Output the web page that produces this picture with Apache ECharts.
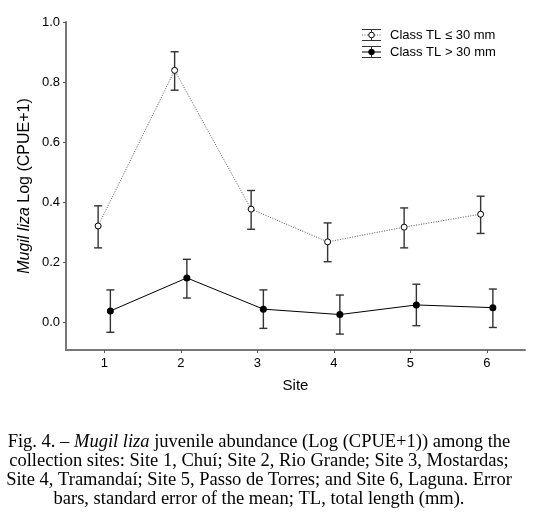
<!DOCTYPE html>
<html>
<head>
<meta charset="utf-8">
<script src="https://cdn.jsdelivr.net/npm/echarts@6/dist/echarts.min.js"></script>
<style>
  html, body { margin: 0; padding: 0; background: #fff; }
  #chart { width: 544px; height: 526px; }
</style>
</head>
<body>
<div id="chart"></div>
<script>
// data
const sites = [1, 2, 3, 4, 5, 6]
const seriesNames = ['Class TL \u2264 30 mm', 'Class TL > 30 mm']
const smallMean = [0.321, 0.839, 0.377, 0.268, 0.317, 0.360]
const smallLow = [0.248, 0.773, 0.310, 0.202, 0.248, 0.296]
const smallHigh = [0.388, 0.901, 0.439, 0.331, 0.381, 0.420]
const largeMean = [0.038, 0.148, 0.044, 0.026, 0.058, 0.049]
const largeLow = [-0.033, 0.081, -0.020, -0.039, -0.011, -0.017]
const largeHigh = [0.108, 0.210, 0.108, 0.091, 0.127, 0.111]
const yTicks = [0, 0.2, 0.4, 0.6, 0.8, 1.0]
const caption = [
  [{ t: 'Fig. 4. \u2013 ' }, { t: 'Mugil liza', i: true }, { t: ' juvenile abundance (Log (CPUE+1)) among the' }],
  [{ t: 'collection sites: Site 1, Chu\u00ed; Site 2, Rio Grande; Site 3, Mostardas;' }],
  [{ t: 'Site 4, Tramanda\u00ed; Site 5, Passo de Torres; and Site 6, Laguna. Error' }],
  [{ t: 'bars, standard error of the mean; TL, total length (mm).' }]
]

const shift = 0.08 // the two groups are drawn slightly apart on each site
const sans = 'Liberation Sans, Arial, sans-serif'
const serif = 'Liberation Serif, Times New Roman, serif'

const myChart = echarts.init(document.getElementById('chart'))

const errorSeries = (low, high, dx) => ({
  type: 'custom',
  silent: true,
  z: 3,
  data: sites.map((s, i) => [s + dx, low[i], high[i]]),
  renderItem: (params, api) => {
    const top = api.coord([api.value(0), api.value(2)])
    const bot = api.coord([api.value(0), api.value(1)])
    const w = 4
    const style = { stroke: '#333', lineWidth: 1.4 }
    return {
      type: 'group',
      children: [
        { type: 'line', shape: { x1: top[0], y1: top[1], x2: bot[0], y2: bot[1] }, style },
        { type: 'line', shape: { x1: top[0] - w, y1: top[1], x2: top[0] + w, y2: top[1] }, style },
        { type: 'line', shape: { x1: bot[0] - w, y1: bot[1], x2: bot[0] + w, y2: bot[1] }, style }
      ]
    }
  }
})

// legend drawn by hand so the icons look like the error-bar glyphs
const legendItem = (y, name, open) => ({
  type: 'group',
  x: 362,
  y: y - 5.5,
  children: [
    { type: 'line', shape: { x1: 0, y1: 0, x2: 19, y2: 0 }, style: { stroke: '#333', lineWidth: 1 } },
    { type: 'line', shape: { x1: 0, y1: 11, x2: 19, y2: 11 }, style: { stroke: '#333', lineWidth: 1 } },
    { type: 'line', shape: { x1: 9.5, y1: 0, x2: 9.5, y2: 11 }, style: { stroke: '#333', lineWidth: 1 } },
    { type: 'line', shape: { x1: 0, y1: 5.5, x2: 19, y2: 5.5 }, style: { stroke: open ? '#666' : '#000', lineWidth: 1, lineDash: open ? [1, 1.5] : null } },
    { type: 'circle', shape: { cx: 9.5, cy: 5.5, r: 2.8 }, style: { fill: open ? '#fff' : '#000', stroke: '#000', lineWidth: 1 } },
    { type: 'text', x: 28, y: 5.5, style: { text: name, font: '13px ' + sans, fill: '#000', verticalAlign: 'middle' } }
  ]
})

const captionText = caption.map((parts, k) => ({
  type: 'text',
  x: 259,
  y: 442 + k * 19,
  style: {
    text: parts.map(p => p.i ? '{i|' + p.t + '}' : p.t).join(''),
    font: '18.5px ' + serif,
    fill: '#000',
    align: 'center',
    verticalAlign: 'middle',
    rich: { i: { fontStyle: 'italic', fontFamily: serif, fontSize: 18.5 } }
  }
}))

const option = {
  animation: false,
  backgroundColor: '#fff',
  grid: { left: 66, right: 19, top: 22, bottom: 176 },
  xAxis: {
    type: 'value',
    min: 0.5,
    max: 6.5,
    name: 'Site',
    nameLocation: 'middle',
    nameGap: 28,
    nameTextStyle: { fontFamily: sans, fontSize: 15, color: '#000' },
    splitLine: { show: false },
    axisLine: { onZero: false, lineStyle: { color: '#777', width: 2 } },
    axisTick: { customValues: sites, length: 3, lineStyle: { color: '#555' } },
    axisLabel: { customValues: sites, fontFamily: sans, fontSize: 13, color: '#000', margin: 7 }
  },
  yAxis: {
    type: 'value',
    min: -0.092,
    max: 1.0,
    name: '{i|Mugil liza} Log (CPUE+1)',
    nameLocation: 'middle',
    nameRotate: 90,
    nameGap: 33,
    nameMoveOverlap: false,
    nameTextStyle: {
      fontFamily: sans, fontSize: 16, color: '#000',
      rich: { i: { fontStyle: 'italic', fontFamily: sans, fontSize: 16, color: '#000' } }
    },
    splitLine: { show: false },
    axisLine: { show: true, onZero: false, lineStyle: { color: '#777', width: 2 } },
    axisTick: { show: true, customValues: yTicks, length: 3, lineStyle: { color: '#555' } },
    axisLabel: {
      customValues: yTicks, fontFamily: sans, fontSize: 13, color: '#000', margin: 6,
      formatter: v => v.toFixed(1)
    }
  },
  series: [
    errorSeries(smallLow, smallHigh, -shift),
    errorSeries(largeLow, largeHigh, shift),
    {
      name: seriesNames[0],
      type: 'line',
      z: 4,
      data: sites.map((s, i) => [s - shift, smallMean[i]]),
      lineStyle: { color: '#555', width: 1, type: [1, 1.5] },
      symbol: 'circle',
      symbolSize: 6,
      itemStyle: { color: '#fff', borderColor: '#000', borderWidth: 1 }
    },
    {
      name: seriesNames[1],
      type: 'line',
      z: 4,
      data: sites.map((s, i) => [s + shift, largeMean[i]]),
      lineStyle: { color: '#000', width: 1 },
      symbol: 'circle',
      symbolSize: 7,
      itemStyle: { color: '#000', borderColor: '#000', borderWidth: 0 }
    }
  ],
  graphic: [
    legendItem(35, seriesNames[0], true),
    legendItem(52, seriesNames[1], false),
    ...captionText
  ]
}

myChart.setOption(option)
window.addEventListener('resize', () => {
  myChart.resize()
})
</script>
</body>
</html>
